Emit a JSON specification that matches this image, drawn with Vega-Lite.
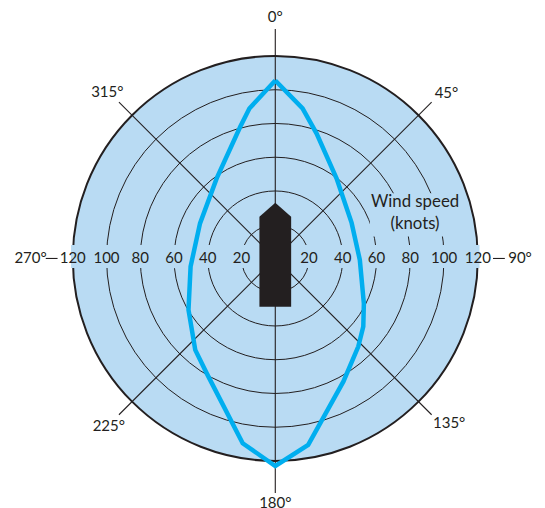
{
"$schema":"https://vega.github.io/schema/vega-lite/v6.json",
"width":545,"height":508,"padding":0,
"autosize":{"type":"none"},
"background":"white",
"view":{"stroke":null},
"config":{"axis":{"grid":false}},
"datasets":{
"rings":[{"knots":20},{"knots":40},{"knots":60},{"knots":80},{"knots":100}],
"spokes":[{"angle":0,"from":0,"to":136},{"angle":45,"from":0,"to":131},{"angle":90,"from":129,"to":136},{"angle":135,"from":0,"to":131},{"angle":180,"from":0,"to":139},{"angle":225,"from":0,"to":131},{"angle":270,"from":129,"to":136},{"angle":315,"from":0,"to":131}],
"polar":[{"i":0,"angle":0,"knots":105.5},{"i":1,"angle":10.3,"knots":90.4},{"i":2,"angle":18.3,"knots":78},{"i":3,"angle":37.5,"knots":59.7},{"i":4,"angle":65,"knots":49.9},{"i":5,"angle":91,"knots":50.1},{"i":6,"angle":117,"knots":58.9},{"i":7,"angle":127.7,"knots":65.9},{"i":8,"angle":136.7,"knots":71.7},{"i":9,"angle":151,"knots":83.3},{"i":10,"angle":170,"knots":112.2},{"i":11,"angle":180,"knots":123},{"i":12,"angle":190,"knots":111.2},{"i":13,"angle":210.8,"knots":79.3},{"i":14,"angle":221.2,"knots":72},{"i":15,"angle":239.3,"knots":59.8},{"i":16,"angle":264.6,"knots":50.4},{"i":17,"angle":295,"knots":49.2},{"i":18,"angle":323.8,"knots":58.8},{"i":19,"angle":345.1,"knots":80.8},{"i":20,"angle":350.2,"knots":90.2},{"i":21,"angle":360,"knots":105.5}],
"ship":[{"side":-9.4,"bow":24.8,"stern":-28.6},{"side":0,"bow":33,"stern":-28.6},{"side":9.4,"bow":24.8,"stern":-28.6}],
"bearings":[{"label":"0°","angle":0,"knots":143},{"label":"45°","angle":46,"knots":141},{"label":"90°","angle":90,"knots":145},{"label":"135°","angle":133.5,"knots":142},{"label":"180°","angle":180,"knots":145},{"label":"225°","angle":224.8,"knots":140},{"label":"270°","angle":270,"knots":145},{"label":"315°","angle":314.7,"knots":140}],
"speeds":[{"label":"20","angle":90,"knots":20},{"label":"40","angle":90,"knots":40},{"label":"60","angle":90,"knots":60},{"label":"80","angle":90,"knots":80},{"label":"100","angle":90,"knots":100},{"label":"120","angle":90,"knots":120},{"label":"20","angle":270,"knots":20},{"label":"40","angle":270,"knots":40},{"label":"60","angle":270,"knots":60},{"label":"80","angle":270,"knots":80},{"label":"100","angle":270,"knots":100},{"label":"120","angle":270,"knots":120}],
"title":[{"label":"Wind speed","angle":68,"knots":89.3},{"label":"(knots)","angle":76.1,"knots":85.3}]
},
"layer":[
{"data":{"values":[{"cx":0,"cy":0,"knots":120}]},
 "mark":{"type":"circle","fill":"#b9dbf3","fillOpacity":1,"stroke":"#231f20","strokeWidth":2},
 "encoding":{"x":{"field":"cx","type":"quantitative","scale":{"domain":[-163.1,159.8],"nice":false,"zero":false},"axis":null},
  "y":{"field":"cy","type":"quantitative","scale":{"domain":[-147.9,153.2],"nice":false,"zero":false},"axis":null},
  "size":{"field":"knots","type":"quantitative","legend":null,"scale":{"type":"pow","exponent":2,"domain":[0,120],"range":[0,164025]}}}},
{"data":{"name":"rings"},
 "transform":[{"calculate":"0","as":"cx"},{"calculate":"0","as":"cy"}],
 "mark":{"type":"circle","fillOpacity":0,"stroke":"#231f20","strokeWidth":1,"strokeOpacity":1},
 "encoding":{"x":{"field":"cx","type":"quantitative","axis":null},"y":{"field":"cy","type":"quantitative","axis":null},
  "size":{"field":"knots","type":"quantitative","legend":null,"scale":{"type":"pow","exponent":2,"domain":[0,120],"range":[0,164025]}}}},
{"data":{"values":[{"x0":-121,"x1":121,"y0":-5.6,"y1":8},{"x0":56,"x1":101,"y0":13,"y1":38.7}]},
 "mark":{"type":"rect","fill":"#b9dbf3"},
 "encoding":{"x":{"field":"x0","type":"quantitative","axis":null},"x2":{"field":"x1"},"y":{"field":"y0","type":"quantitative","axis":null},"y2":{"field":"y1"}}},
{"data":{"name":"spokes"},
 "transform":[{"calculate":"datum.from*sin(datum.angle*PI/180)","as":"x0"},{"calculate":"datum.from*cos(datum.angle*PI/180)","as":"y0"},{"calculate":"datum.to*sin(datum.angle*PI/180)","as":"x1"},{"calculate":"datum.to*cos(datum.angle*PI/180)","as":"y1"}],
 "mark":{"type":"rule","stroke":"#231f20","strokeWidth":1.1},
 "encoding":{"x":{"field":"x0","type":"quantitative","axis":null},"x2":{"field":"x1"},"y":{"field":"y0","type":"quantitative","axis":null},"y2":{"field":"y1"}}},
{"data":{"name":"ship"},
 "mark":{"type":"area","fill":"#231f20","orient":"vertical"},
 "encoding":{"x":{"field":"side","type":"quantitative","axis":null},"y":{"field":"stern","type":"quantitative","axis":null},"y2":{"field":"bow"}}},
{"data":{"name":"polar"},
 "transform":[{"calculate":"datum.knots*sin(datum.angle*PI/180)","as":"px"},{"calculate":"datum.knots*cos(datum.angle*PI/180)","as":"py"}],
 "mark":{"type":"line","stroke":"#00aeef","strokeWidth":4.5,"strokeJoin":"miter"},
 "encoding":{"x":{"field":"px","type":"quantitative","axis":null},"y":{"field":"py","type":"quantitative","axis":null},"order":{"field":"i"}}},
{"data":{"name":"bearings"},
 "transform":[{"calculate":"datum.knots*sin(datum.angle*PI/180)","as":"px"},{"calculate":"datum.knots*cos(datum.angle*PI/180)","as":"py"}],
 "mark":{"type":"text","font":"Lato","fontSize":15,"fill":"#231f20"},
 "encoding":{"x":{"field":"px","type":"quantitative","axis":null},"y":{"field":"py","type":"quantitative","axis":null},"text":{"field":"label"}}},
{"data":{"name":"speeds"},
 "transform":[{"calculate":"datum.knots*sin(datum.angle*PI/180)","as":"px"},{"calculate":"datum.knots*cos(datum.angle*PI/180)","as":"py"}],
 "mark":{"type":"text","font":"Lato","fontSize":15,"fill":"#231f20"},
 "encoding":{"x":{"field":"px","type":"quantitative","axis":null},"y":{"field":"py","type":"quantitative","axis":null},"text":{"field":"label"}}},
{"data":{"name":"title"},
 "transform":[{"calculate":"datum.knots*sin(datum.angle*PI/180)","as":"px"},{"calculate":"datum.knots*cos(datum.angle*PI/180)","as":"py"}],
 "mark":{"type":"text","font":"Lato","fontSize":16.8,"fill":"#231f20"},
 "encoding":{"x":{"field":"px","type":"quantitative","axis":null},"y":{"field":"py","type":"quantitative","axis":null},"text":{"field":"label"}}}
]
}
